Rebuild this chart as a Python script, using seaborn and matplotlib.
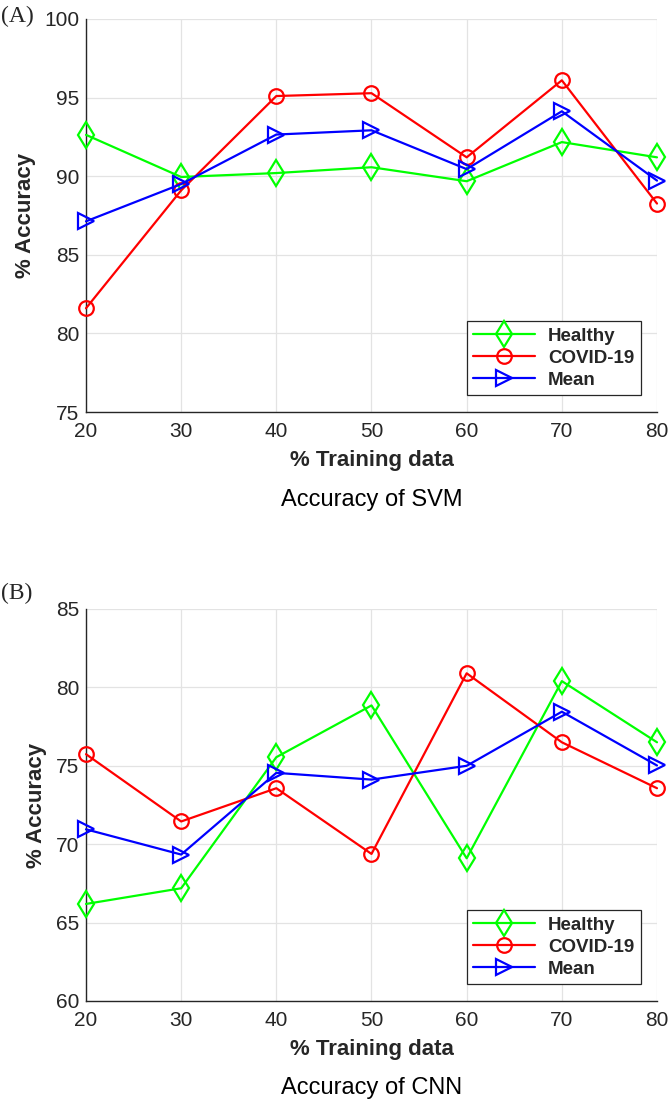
import matplotlib
matplotlib.use('Agg')
import matplotlib.pyplot as plt
import seaborn as sns
import pandas as pd

# Data
train_pct = [20, 30, 40, 50, 60, 70, 80]

svm_healthy = [92.63, 89.95, 90.2, 90.57, 89.68, 92.17, 91.2]
svm_covid = [81.6, 89.1, 95.1, 95.28, 91.2, 96.1, 88.26]
svm_mean = [87.13, 89.5, 92.65, 92.92, 90.45, 94.13, 89.72]

cnn_healthy = [66.19, 67.19, 75.55, 78.85, 69.1, 80.4, 76.5]
cnn_covid = [75.74, 71.45, 73.57, 69.38, 80.9, 76.5, 73.57]
cnn_mean = [70.95, 69.34, 74.55, 74.12, 75.0, 78.45, 75.02]

series_names = ['Healthy', 'COVID-19', 'Mean']
series_colors = ['#00ff00', '#ff0000', '#0000ff']
series_markers = ['d', 'o', '>']
series_msize = [13, 10.5, 11.5]

sns.set_style("whitegrid")
plt.rcParams['font.family'] = ['Liberation Sans', 'DejaVu Sans']

fig = plt.figure(figsize=(6.69, 11.02), dpi=100)
W, H = 669, 1102


def panel(top_px, bottom_px, values, ylim, yticks, title, title_px, label, label_px):
    ax = fig.add_axes([86 / W, 1 - bottom_px / H, (657 - 86) / W, (bottom_px - top_px) / H])
    for name, vals, col, mk, ms in zip(series_names, values, series_colors,
                                       series_markers, series_msize):
        df = pd.DataFrame({'x': train_pct, 'y': vals})
        sns.lineplot(data=df, x='x', y='y', ax=ax, color=col, linewidth=1.6,
                     marker=mk, markersize=ms, markerfacecolor='none',
                     markeredgecolor=col, markeredgewidth=1.6, label=name,
                     clip_on=False, zorder=3)
    ax.set_xlim(20, 80)
    ax.set_ylim(*ylim)
    ax.set_xticks(train_pct)
    ax.set_yticks(yticks)
    ax.grid(True, color='#e3e3e3', linewidth=0.9)
    for s in ['top', 'right']:
        ax.spines[s].set_visible(False)
    for s in ['left', 'bottom']:
        ax.spines[s].set_color('#262626')
        ax.spines[s].set_linewidth(1.0)
    ax.tick_params(axis='both', direction='in', length=5, width=0.9,
                   color='#262626', labelsize=15, labelcolor='#262626')
    ax.tick_params(axis='x', pad=7)
    ax.tick_params(axis='y', pad=5)
    ax.set_xlabel('% Training data', fontsize=16, fontweight='bold',
                  color='#262626', labelpad=7)
    ax.set_ylabel('% Accuracy', fontsize=16, fontweight='bold',
                  color='#262626', labelpad=6)
    leg = ax.legend(loc='lower right', bbox_to_anchor=(0.972, 0.043),
                    prop={'weight': 'bold', 'size': 13.5}, handlelength=3.3,
                    frameon=True, fancybox=False, borderpad=0.35,
                    labelspacing=0.25, handletextpad=0.7, borderaxespad=0)
    leg.get_frame().set_edgecolor('#262626')
    leg.get_frame().set_linewidth(0.9)
    leg.get_frame().set_alpha(1)
    leg.set_zorder(5)
    fig.text(0.5 * (86 + 657) / W, 1 - title_px / H, title, fontsize=17,
             ha='center', va='center', color='black')
    fig.text(0.002, 1 - label_px / H, label, fontsize=17, ha='left', va='center',
             family=['Liberation Serif', 'DejaVu Serif'])
    return ax


panel(19, 412, [svm_healthy, svm_covid, svm_mean], (75, 100),
      [75, 80, 85, 90, 95, 100], 'Accuracy of SVM', 500, '(A)', 16)
panel(609, 1001, [cnn_healthy, cnn_covid, cnn_mean], (60, 85),
      [60, 65, 70, 75, 80, 85], 'Accuracy of CNN', 1088, '(B)', 593)

fig.savefig('out.png', dpi=100)
plt.close('all')
